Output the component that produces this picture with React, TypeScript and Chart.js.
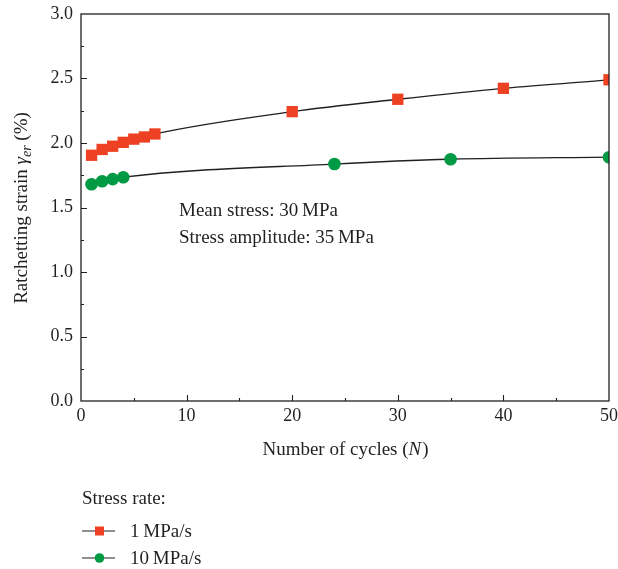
import React, { useEffect, useRef } from "react";
import { Chart, registerables } from "chart.js";

Chart.register(...registerables);

// Ratchetting strain vs. number of cycles for two stress rates
const cycles1 = [1, 2, 3, 4, 5, 6, 7, 20, 30, 40, 50];
const strain1 = [1.905, 1.95, 1.975, 2.005, 2.03, 2.047, 2.07, 2.243, 2.339, 2.424, 2.49];
const cycles10 = [1, 2, 3, 4, 24, 35, 50];
const strain10 = [1.68, 1.703, 1.72, 1.735, 1.837, 1.874, 1.89];

const xTicks = [0, 10, 20, 30, 40, 50];
const yTicks = [0, 0.5, 1.0, 1.5, 2.0, 2.5, 3.0];

const seriesLabels = ["1\u2009MPa/s", "10\u2009MPa/s"];
const legendTitle = "Stress rate:";
const noteLines = ["Mean stress: 30\u2009MPa", "Stress amplitude: 35\u2009MPa"];

const RED = "#ee4124";
const GREEN = "#009a44";
const INK = "#231f20";
const FONT = "'Liberation Serif', 'Times New Roman', serif";
const FS = 19;
const TICK_FS = 18;

// chart-area edges in canvas pixels
const AREA = { left: 81, top: 14, right: 609, bottom: 401 };

const decorPlugin = {
  id: "decor",
  afterDraw(chart: any) {
    const { ctx, chartArea: a, scales } = chart;
    const xs = scales.x;
    const ys = scales.y;
    ctx.save();

    // frame
    ctx.strokeStyle = INK;
    ctx.lineWidth = 1.3;
    ctx.strokeRect(a.left, a.top, a.right - a.left, a.bottom - a.top);

    // inward ticks (major + minor)
    ctx.lineWidth = 1.1;
    ctx.beginPath();
    for (let v = 5; v < 50; v += 5) {
      const px = Math.round(xs.getPixelForValue(v)) + 0.5;
      const len = v % 10 === 0 ? 6 : 3;
      ctx.moveTo(px, a.bottom);
      ctx.lineTo(px, a.bottom - len);
    }
    for (let i = 1; i < 12; i++) {
      const v = i * 0.25;
      const py = Math.round(ys.getPixelForValue(v)) + 0.5;
      const len = i % 2 === 0 ? 6 : 3;
      ctx.moveTo(a.left, py);
      ctx.lineTo(a.left + len, py);
    }
    ctx.stroke();

    ctx.fillStyle = INK;
    ctx.textBaseline = "alphabetic";
    ctx.textAlign = "left";

    // x title
    const t1 = "Number of cycles (";
    const t2 = "N";
    const t3 = ")";
    ctx.font = `${FS}px ${FONT}`;
    const w1 = ctx.measureText(t1).width;
    const w3 = ctx.measureText(t3).width;
    ctx.font = `italic ${FS}px ${FONT}`;
    const w2 = ctx.measureText(t2).width;
    const cx = (a.left + a.right) / 2;
    const x0 = cx - (w1 + w2 + w3) / 2;
    const by = 455;
    ctx.font = `${FS}px ${FONT}`;
    ctx.fillText(t1, x0, by);
    ctx.font = `italic ${FS}px ${FONT}`;
    ctx.fillText(t2, x0 + w1, by);
    ctx.font = `${FS}px ${FONT}`;
    ctx.fillText(t3, x0 + w1 + w2 + 1, by);

    // y title, rotated, with italic gamma and subscript
    ctx.save();
    ctx.translate(27, 208);
    ctx.rotate(-Math.PI / 2);
    const parts = [
      { s: "Ratchetting strain ", f: `${FS}px ${FONT}`, dy: 0 },
      { s: "\u03b3", f: `italic ${FS}px ${FONT}`, dy: 0 },
      { s: "er", f: `italic ${Math.round(FS * 0.72)}px ${FONT}`, dy: 4 },
      { s: " (%)", f: `${FS}px ${FONT}`, dy: 0 },
    ];
    let total = 0;
    const widths = parts.map((p) => {
      ctx.font = p.f;
      const w = ctx.measureText(p.s).width;
      total += w;
      return w;
    });
    let px = -total / 2;
    parts.forEach((p, i) => {
      ctx.font = p.f;
      ctx.fillText(p.s, px, p.dy);
      px += widths[i];
    });
    ctx.restore();

    // note inside the plot
    ctx.font = `${FS}px ${FONT}`;
    ctx.fillText(noteLines[0], 179, 216);
    ctx.fillText(noteLines[1], 179, 243);

    // legend
    ctx.fillText(legendTitle, 82, 504);
    const rows = [
      { y: 531, color: RED, shape: "square" },
      { y: 558, color: GREEN, shape: "circle" },
    ];
    rows.forEach((r, i) => {
      ctx.strokeStyle = INK;
      ctx.lineWidth = 1.2;
      ctx.beginPath();
      ctx.moveTo(82, r.y);
      ctx.lineTo(95, r.y);
      ctx.moveTo(104, r.y);
      ctx.lineTo(115, r.y);
      ctx.stroke();
      ctx.fillStyle = r.color;
      if (r.shape === "square") {
        ctx.fillRect(95, r.y - 4.5, 9, 9);
      } else {
        ctx.beginPath();
        ctx.arc(99.5, r.y, 4.8, 0, Math.PI * 2);
        ctx.fill();
      }
      ctx.fillStyle = INK;
      ctx.font = `${FS}px ${FONT}`;
      ctx.fillText(seriesLabels[i], 130, r.y + 6);
    });

    ctx.restore();
  },
};

// pin the plot rectangle to fixed canvas coordinates
const pinAreaPlugin = {
  id: "pinArea",
  afterLayout(chart: any) {
    const a = chart.chartArea;
    a.left = AREA.left;
    a.top = AREA.top;
    a.right = AREA.right;
    a.bottom = AREA.bottom;
    a.width = AREA.right - AREA.left;
    a.height = AREA.bottom - AREA.top;
    const { x, y } = chart.scales;
    x.left = AREA.left;
    x.right = AREA.right;
    x.width = AREA.right - AREA.left;
    x.top = AREA.bottom;
    x.bottom = AREA.bottom + 168;
    x.height = 168;
    y.top = AREA.top;
    y.bottom = AREA.bottom;
    y.height = AREA.bottom - AREA.top;
    y.left = 0;
    y.right = AREA.left;
    y.width = AREA.left;
    x.configure();
    y.configure();
  },
};

export default function App() {
  const ref = useRef<HTMLCanvasElement | null>(null);

  useEffect(() => {
    if (!ref.current) return;
    const chart = new Chart(ref.current, {
      type: "scatter",
      data: {
        datasets: [
          {
            label: seriesLabels[0],
            data: cycles1.map((x, i) => ({ x, y: strain1[i] })),
            showLine: true,
            borderColor: INK,
            borderWidth: 1.3,
            cubicInterpolationMode: "monotone",
            pointStyle: "rect",
            pointRadius: 8,
            pointBackgroundColor: RED,
            pointBorderWidth: 0,
            pointBorderColor: RED,
          },
          {
            label: seriesLabels[1],
            data: cycles10.map((x, i) => ({ x, y: strain10[i] })),
            showLine: true,
            borderColor: INK,
            borderWidth: 1.3,
            cubicInterpolationMode: "monotone",
            pointStyle: "circle",
            pointRadius: 6.3,
            pointBackgroundColor: GREEN,
            pointBorderWidth: 0,
            pointBorderColor: GREEN,
          },
        ],
      },
      options: {
        responsive: false,
        animation: false,
        layout: { padding: { left: 0, top: 14, right: 9, bottom: 0 } },
        plugins: { legend: { display: false }, tooltip: { enabled: false } },
        scales: {
          x: {
            type: "linear",
            min: 0,
            max: 50,
            afterBuildTicks: (s: any) => {
              s.ticks = xTicks.map((v) => ({ value: v }));
            },
            grid: { display: false, drawTicks: false },
            border: { display: false },
            ticks: {
              color: INK,
              font: { family: FONT, size: TICK_FS },
              padding: 4,
              maxRotation: 0,
            },
          },
          y: {
            min: 0,
            max: 3,
            afterBuildTicks: (s: any) => {
              s.ticks = yTicks.map((v) => ({ value: v }));
            },
            grid: { display: false, drawTicks: false },
            border: { display: false },
            ticks: {
              color: INK,
              font: { family: FONT, size: TICK_FS },
              padding: 8,
              callback: (v: any) => Number(v).toFixed(1),
            },
          },
        },
      },
      plugins: [pinAreaPlugin, decorPlugin],
    });
    return () => chart.destroy();
  }, []);

  return (
    <div style={{ position: "absolute", left: 0, top: 0, width: 618, height: 569, background: "#fff" }}>
      <canvas ref={ref} width={618} height={569} style={{ display: "block" }} />
    </div>
  );
}
